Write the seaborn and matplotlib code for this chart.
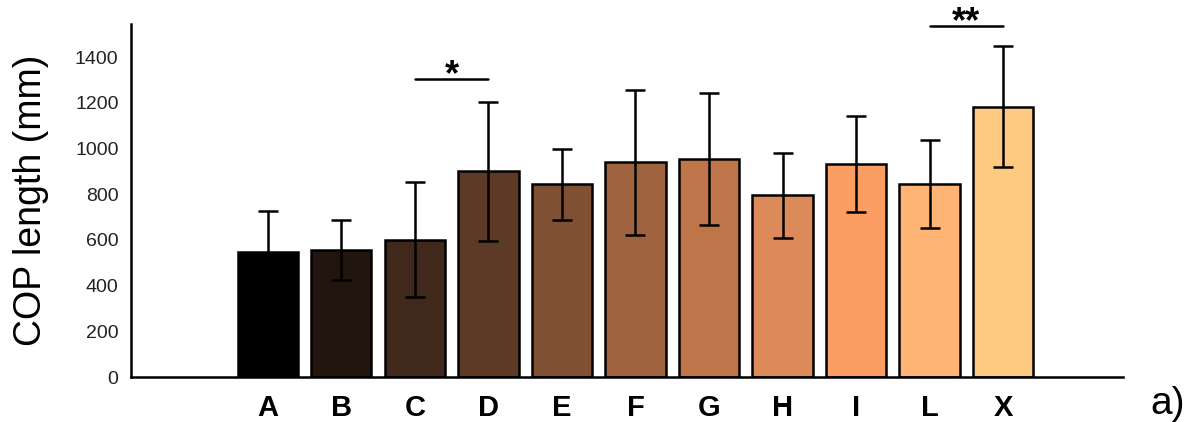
import numpy as np
import seaborn as sns
import matplotlib.pyplot as plt

groups = ["A", "B", "C", "D", "E", "F", "G", "H", "I", "L", "X"]
means = [547, 556, 601, 900, 843, 939, 954, 795, 933, 846, 1183]
sds = [180, 133, 252, 304, 156, 318, 290, 185, 210, 192, 265]
colors = ["#000000", "#21150e", "#40281c", "#5c3a26", "#7f5034", "#9f6340",
          "#bd7549", "#dc8a59", "#fb9e63", "#fdb474", "#fec980"]
yticks = [0, 200, 400, 600, 800, 1000, 1200, 1400]

sns.set_style("white")
plt.rcParams["font.family"] = ["Liberation Sans", "DejaVu Sans"]

fig = plt.figure(figsize=(11.88, 4.22), dpi=100)
ax = fig.add_axes([0.1103, 0.1066, 0.8350, 0.8365])

sns.barplot(x=groups, y=means, hue=groups, palette=colors, width=0.82,
            saturation=1, edgecolor="black", linewidth=1.8, legend=False, ax=ax)
ax.errorbar(np.arange(len(groups)), means, yerr=sds, fmt="none",
            ecolor="black", elinewidth=1.8, capsize=7.2, capthick=1.8)

# significance bars
ax.plot([2, 3], [1304, 1304], color="black", lw=1.8, clip_on=False)
ax.text(2.5, 1304 - 28, "*", ha="center", va="baseline", fontsize=26,
        fontweight="bold", color="black")
ax.plot([9, 10], [1536, 1536], color="black", lw=1.8, clip_on=False)
ax.text(9.5, 1536 - 28, "**", ha="center", va="baseline", fontsize=26,
        fontweight="bold", color="black")

ax.set_xlim(-1.86, 11.63)
ax.set_ylim(0, 1545)
ax.set_yticks(yticks)
ax.tick_params(axis="y", length=0, pad=9, labelsize=14, labelcolor="#222222")
ax.tick_params(axis="x", length=0, pad=12)
for lab in ax.get_xticklabels():
    lab.set_fontsize(21)
    lab.set_fontweight("bold")
    lab.set_color("black")
ax.set_ylabel("COP length (mm)", fontsize=27, labelpad=19, color="black")
ax.set_xlabel("")
sns.despine(ax=ax)
for s in ["left", "bottom"]:
    ax.spines[s].set_color("black")
    ax.spines[s].set_linewidth(1.8)

fig.text(0.997, 0.02, "a)", ha="right", va="baseline", fontsize=28,
         color="black")

fig.savefig("out.png", dpi=100)
